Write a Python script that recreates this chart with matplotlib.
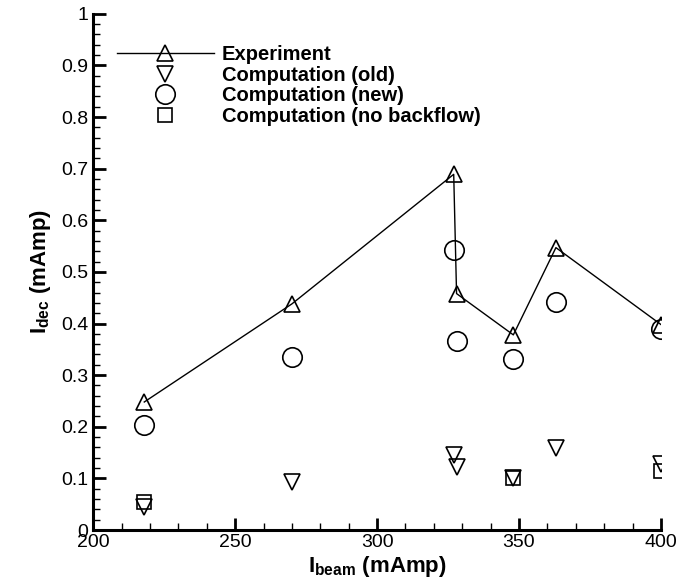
import numpy as np
import matplotlib
matplotlib.use('Agg')
import matplotlib.pyplot as plt
from matplotlib.ticker import MultipleLocator, FuncFormatter

plt.rcParams['font.family'] = ['Liberation Sans', 'DejaVu Sans']
plt.rcParams['mathtext.fontset'] = 'custom'
plt.rcParams['mathtext.rm'] = 'Liberation Sans:bold'
plt.rcParams['mathtext.it'] = 'Liberation Sans:bold'
plt.rcParams['mathtext.bf'] = 'Liberation Sans:bold'

# beam current (mAmp)
beam = [218, 270, 327, 328, 348, 363, 400]
experiment = [0.248, 0.438, 0.689, 0.458, 0.378, 0.547, 0.398]
comp_new = [0.203, 0.335, 0.543, 0.366, 0.331, 0.442, 0.390]
comp_old = [0.045, 0.093, 0.145, 0.122, 0.100, 0.158, 0.128]
beam_nobf = [218, 348, 400]
comp_nobf = [0.054, 0.101, 0.115]

fig = plt.figure(figsize=(6.8, 5.88), dpi=100)
ax = fig.add_axes([0.137, 0.0986, 0.835, 0.878])

ax.plot(beam, experiment, color='black', lw=1.0, marker='^', ms=12,
        mfc='none', mec='black', mew=1.2, label='Experiment')
ax.plot(beam, comp_old, ls='none', marker='v', ms=12,
        mfc='none', mec='black', mew=1.2, label='Computation (old)')
ax.plot(beam, comp_new, ls='none', marker='o', ms=14,
        mfc='none', mec='black', mew=1.2, label='Computation (new)')
ax.plot(beam_nobf, comp_nobf, ls='none', marker='s', ms=10,
        mfc='none', mec='black', mew=1.2, label='Computation (no backflow)')

ax.set_xlim(200, 400)
ax.set_ylim(0, 1)
ax.xaxis.set_major_locator(MultipleLocator(50))
ax.xaxis.set_minor_locator(MultipleLocator(10))
ax.yaxis.set_major_locator(MultipleLocator(0.1))
ax.yaxis.set_minor_locator(MultipleLocator(0.02))
ax.yaxis.set_major_formatter(FuncFormatter(lambda v, p: '%g' % round(v, 2)))

ax.spines['top'].set_visible(False)
ax.spines['right'].set_visible(False)
ax.spines['left'].set_linewidth(2.2)
ax.spines['bottom'].set_linewidth(2.2)
ax.tick_params(which='major', direction='in', length=9, width=2, labelsize=14)
ax.tick_params(which='minor', direction='in', length=5, width=1)
ax.tick_params(axis='x', pad=3)

ax.set_xlabel(r'I$_{\rm beam}$ (mAmp)', fontsize=16, fontweight='bold', labelpad=2)
ax.set_ylabel(r'I$_{\rm dec}$ (mAmp)', fontsize=16, fontweight='bold', labelpad=6)

ax.legend(loc='upper left', bbox_to_anchor=(0.16, 0.937), bbox_transform=fig.transFigure,
          frameon=False, prop={'weight': 'bold', 'size': 14.5}, handlelength=4.8,
          labelspacing=0.08, handletextpad=0.4, borderaxespad=0)

fig.savefig('out.png', dpi=100)
